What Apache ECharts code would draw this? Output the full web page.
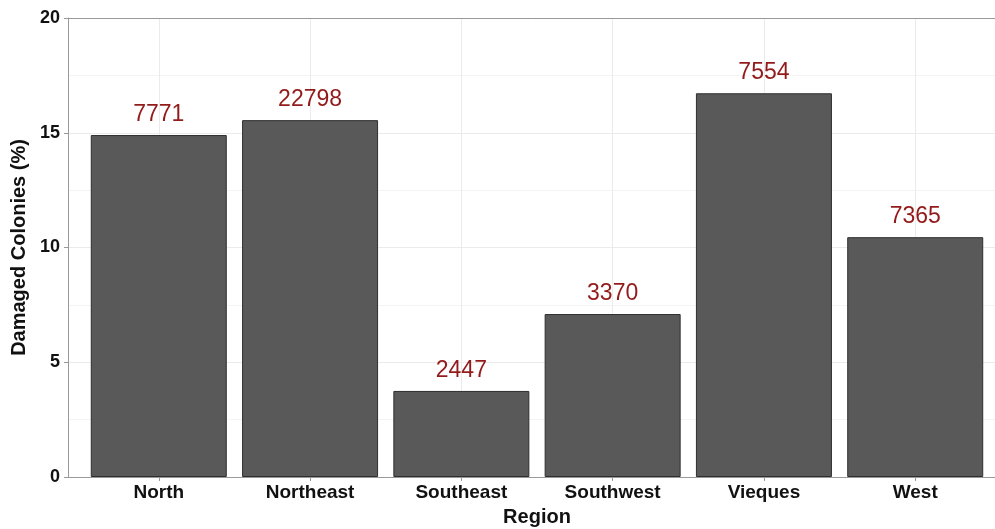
<!DOCTYPE html>
<html>
<head>
<meta charset="utf-8">
<script src="https://cdn.jsdelivr.net/npm/echarts@6/dist/echarts.min.js"></script>
<style>
  html, body { margin: 0; padding: 0; background: #fff; }
  #chart { width: 995px; height: 529px; }
</style>
</head>
<body>
<div id="chart"></div>
<script>
// data
const regions = ['North', 'Northeast', 'Southeast', 'Southwest', 'Vieques', 'West']
const damagedPct = [14.9, 15.55, 3.75, 7.1, 16.72, 10.45]
const colonyCounts = [7771, 22798, 2447, 3370, 7554, 7365]
const yTicks = [0, 5, 10, 15, 20]

const FONT = '"Liberation Sans", Arial, sans-serif'
const positions = regions.map((_, i) => i)

const chart = echarts.init(document.getElementById('chart'), null, { renderer: 'canvas' })

// discrete axis with ggplot-style 0.6 expansion on each side
const baseAxis = {
  type: 'value',
  min: -0.6,
  max: 5.6,
}

chart.setOption({
  backgroundColor: '#fff',
  animation: false,
  textStyle: { fontFamily: FONT },
  grid: { left: 68, top: 18, right: -11, bottom: 52, containLabel: false, outerBoundsMode: 'none' },
  xAxis: [
    {
      ...baseAxis,
      name: 'Region',
      nameLocation: 'middle',
      nameGap: 30,
      nameTextStyle: { color: '#111', fontSize: 20, fontWeight: 'bold', fontFamily: FONT },
      axisLine: { show: true, onZero: false, lineStyle: { color: '#999', width: 1 } },
      axisTick: { show: true, length: 4, customValues: positions, lineStyle: { color: '#999' } },
      axisLabel: {
        customValues: positions,
        formatter: (v) => regions[v],
        color: '#111',
        fontSize: 19,
        fontWeight: 'bold',
        margin: 6,
      },
      splitLine: { show: true, lineStyle: { color: '#ebebeb', width: 1 } },
    },
    {
      ...baseAxis,
      position: 'top',
      axisLine: { show: true, onZero: false, lineStyle: { color: '#999', width: 1 } },
      axisTick: { show: false },
      axisLabel: { show: false },
      splitLine: { show: false },
    },
  ],
  yAxis: {
    type: 'value',
    min: 0,
    max: 20,
    interval: 5,
    name: 'Damaged Colonies (%)',
    nameLocation: 'middle',
    nameGap: 33,
    nameTextStyle: { color: '#111', fontSize: 20, fontWeight: 'bold', fontFamily: FONT },
    axisLine: { show: true, onZero: false, lineStyle: { color: '#999', width: 1 } },
    axisTick: { show: true, length: 4, lineStyle: { color: '#999' } },
    axisLabel: {
      color: '#111',
      fontSize: 18,
      fontWeight: 'bold',
      margin: 8,
      formatter: (v) => (yTicks.includes(v) ? String(v) : ''),
    },
    splitLine: { show: true, lineStyle: { color: '#ebebeb', width: 1 } },
    minorTick: { show: false, splitNumber: 2 },
    minorSplitLine: { show: true, lineStyle: { color: '#f4f4f4', width: 1 } },
  },
  series: [
    {
      type: 'bar',
      xAxisIndex: 0,
      data: damagedPct.map((v, i) => [i, v]),
      barWidth: 136,
      itemStyle: { color: '#595959', borderColor: '#2e2e2e', borderWidth: 1 },
      label: {
        show: true,
        position: 'top',
        distance: 9,
        formatter: (p) => String(colonyCounts[p.dataIndex]),
        color: '#931a1a',
        fontSize: 23,
        fontFamily: FONT,
      },
    },
  ],
})
</script>
</body>
</html>
